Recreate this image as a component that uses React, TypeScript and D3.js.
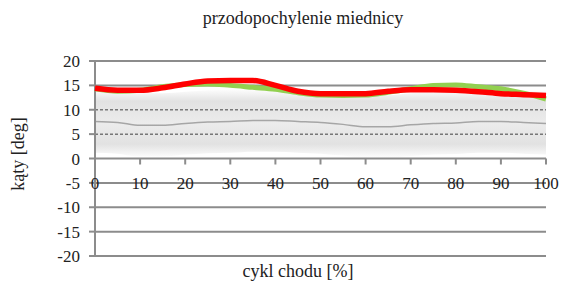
import * as d3 from "d3";
import React, { useEffect, useRef } from "react";

const cycle = [0, 5, 10, 15, 20, 25, 30, 35, 40, 45, 50, 55, 60, 65, 70, 75, 80, 85, 90, 95, 100];
const leftSide = [14.4, 14.0, 14.0, 14.5, 15.3, 15.9, 16.0, 16.0, 15.0, 13.8, 13.3, 13.3, 13.3, 13.8, 14.1, 14.1, 14.0, 13.7, 13.3, 13.1, 12.9];
const rightSide = [14.3, 13.8, 14.0, 14.7, 15.2, 15.3, 15.0, 14.6, 14.2, 13.5, 13.0, 12.9, 13.0, 13.6, 14.3, 15.0, 15.1, 14.7, 14.3, 13.4, 12.2];
const normMean = [7.6, 7.4, 6.8, 6.8, 7.2, 7.5, 7.6, 7.8, 7.8, 7.6, 7.4, 7.0, 6.5, 6.5, 6.9, 7.2, 7.3, 7.6, 7.6, 7.4, 7.2];
const normUpper = [14.0, 13.8, 13.4, 13.4, 13.7, 14.0, 14.1, 14.3, 14.3, 14.1, 13.9, 13.5, 13.0, 13.0, 13.4, 13.7, 13.8, 14.1, 14.1, 13.9, 13.7];
const normLower = [1.2, 1.0, 0.4, 0.4, 0.8, 1.1, 1.2, 1.4, 1.4, 1.2, 1.0, 0.6, 0.1, 0.1, 0.5, 0.8, 0.9, 1.2, 1.2, 1.0, 0.8];
const dashedLevels = [10, 5];
const yTicks = [20, 15, 10, 5, 0, -5, -10, -15, -20];
const xTicks = [0, 10, 20, 30, 40, 50, 60, 70, 80, 90, 100];

const W = 564;
const H = 284;

const App: React.FC = () => {
  const ref = useRef<SVGSVGElement>(null);

  useEffect(() => {
    if (!ref.current) return;
    const svg = d3.select(ref.current);
    svg.selectAll("*").remove();

    const font = "Liberation Serif, DejaVu Serif, serif";
    const x = d3.scaleLinear().domain([0, 100]).range([95, 546]);
    const y = d3.scaleLinear().domain([-20, 20]).range([256, 61]);

    const defs = svg.append("defs");
    const grad = defs
      .append("linearGradient")
      .attr("id", "band")
      .attr("x1", 0)
      .attr("y1", 0)
      .attr("x2", 0)
      .attr("y2", 1);
    grad.append("stop").attr("offset", "0%").attr("stop-color", "#e0e0e0").attr("stop-opacity", 0);
    grad.append("stop").attr("offset", "18%").attr("stop-color", "#e2e2e2").attr("stop-opacity", 1);
    grad.append("stop").attr("offset", "50%").attr("stop-color", "#ececec").attr("stop-opacity", 1);
    grad.append("stop").attr("offset", "80%").attr("stop-color", "#e2e2e2").attr("stop-opacity", 1);
    grad.append("stop").attr("offset", "100%").attr("stop-color", "#e0e0e0").attr("stop-opacity", 0);

    // norm band
    const area = d3
      .area<number>()
      .x((_, i) => x(cycle[i]))
      .y0((_, i) => y(normLower[i]))
      .y1((_, i) => y(normUpper[i]))
      .curve(d3.curveMonotoneX);
    svg.append("path").attr("d", area(cycle)).attr("fill", "url(#band)");

    // solid gridlines
    svg
      .selectAll(".grid")
      .data(yTicks.filter((t) => !dashedLevels.includes(t) && t !== 0))
      .enter()
      .append("line")
      .attr("x1", x(0))
      .attr("x2", x(100))
      .attr("y1", (d) => y(d))
      .attr("y2", (d) => y(d))
      .attr("stroke", "#8c8c8c")
      .attr("stroke-width", 2);

    // dashed norm limits
    svg
      .selectAll(".dash")
      .data(dashedLevels)
      .enter()
      .append("line")
      .attr("x1", x(0))
      .attr("x2", x(100))
      .attr("y1", (d) => y(d))
      .attr("y2", (d) => y(d))
      .attr("stroke", "#777")
      .attr("stroke-width", 1.5)
      .attr("stroke-dasharray", "3,2");

    const line = (vals: number[]) =>
      d3
        .line<number>()
        .x((_, i) => x(cycle[i]))
        .y((d) => y(d))
        .curve(d3.curveMonotoneX)(vals);

    svg.append("path").attr("d", line(normMean)).attr("fill", "none").attr("stroke", "#a6a6a6").attr("stroke-width", 1.5);

    // y axis
    svg.append("line").attr("x1", x(0)).attr("x2", x(0)).attr("y1", y(20)).attr("y2", y(-20)).attr("stroke", "#8c8c8c").attr("stroke-width", 2);
    svg
      .selectAll(".ytick")
      .data(yTicks)
      .enter()
      .append("line")
      .attr("x1", x(0) - 6)
      .attr("x2", x(0))
      .attr("y1", (d) => y(d))
      .attr("y2", (d) => y(d))
      .attr("stroke", "#8c8c8c")
      .attr("stroke-width", 2);

    const txt = (sel: d3.Selection<SVGTextElement, any, any, any>, size: number) =>
      sel.attr("font-family", font).attr("font-size", size).attr("fill", "#222");

    txt(
      svg
        .selectAll<SVGTextElement, number>(".ylab")
        .data(yTicks)
        .enter()
        .append("text")
        .attr("x", 80)
        .attr("y", (d) => y(d) + 6)
        .attr("text-anchor", "end")
        .text((d) => d),
      17
    );

    // x axis at 0
    svg.append("line").attr("x1", x(0)).attr("x2", x(100)).attr("y1", y(0)).attr("y2", y(0)).attr("stroke", "#8c8c8c").attr("stroke-width", 2);
    svg
      .selectAll(".xtick")
      .data(xTicks)
      .enter()
      .append("line")
      .attr("x1", (d) => x(d))
      .attr("x2", (d) => x(d))
      .attr("y1", y(0))
      .attr("y2", y(0) + 6)
      .attr("stroke", "#8c8c8c")
      .attr("stroke-width", 2);
    txt(
      svg
        .selectAll<SVGTextElement, number>(".xlab")
        .data(xTicks)
        .enter()
        .append("text")
        .attr("x", (d) => x(d))
        .attr("y", y(-5) + 6)
        .attr("text-anchor", "middle")
        .text((d) => d),
      17
    );

    // series
    svg.append("path").attr("d", line(rightSide)).attr("fill", "none").attr("stroke", "#92d050").attr("stroke-width", 5);
    svg.append("path").attr("d", line(leftSide)).attr("fill", "none").attr("stroke", "#ff0000").attr("stroke-width", 5.5);

    txt(svg.append("text").attr("x", 303).attr("y", 24).attr("text-anchor", "middle").text("przodopochylenie miednicy"), 18);
    txt(svg.append("text").attr("x", 298).attr("y", 277).attr("text-anchor", "middle").text("cykl chodu [%]"), 18);
    txt(
      svg.append("text").attr("transform", `translate(24, 154) rotate(-90)`).attr("text-anchor", "middle").text("kąty [deg]"),
      18
    );
  }, []);

  return (
    <svg
      ref={ref}
      width={W}
      height={H}
      style={{ position: "absolute", left: 0, top: 0, background: "#fff" }}
    ></svg>
  );
};

export default App;
